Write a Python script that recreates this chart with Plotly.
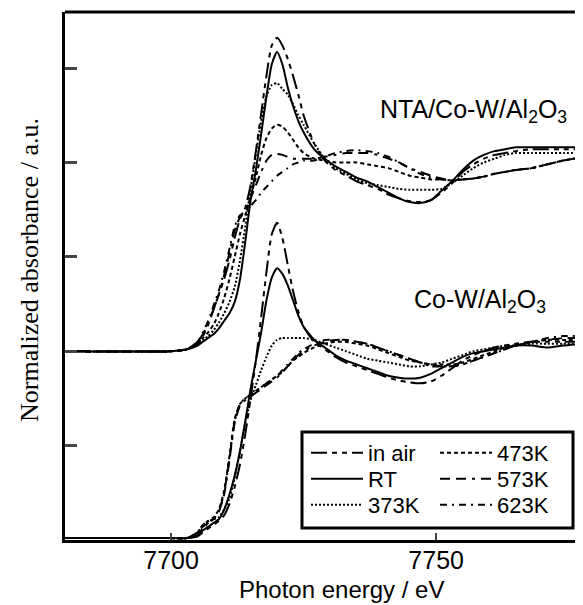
import plotly.graph_objects as go

# Photon energy grid (eV)
energy = [7680, 7700, 7703, 7705, 7706, 7707, 7708, 7709, 7710, 7711, 7712, 7713, 7714, 7715,
          7716, 7717, 7718, 7719, 7720, 7721, 7722, 7723, 7724, 7725, 7727, 7729, 7731, 7733,
          7735, 7737, 7739, 7741, 7743, 7745, 7747, 7749, 7751, 7753, 7755, 7757, 7759, 7761,
          7763, 7765, 7768, 7771, 7774, 7778]

# Co-W/Al2O3 (normalized absorbance)
cow_air = [0.01, 0.01, 0.01, 0.02, 0.04, 0.06, 0.08, 0.10, 0.13, 0.19, 0.28, 0.40, 0.56, 0.75,
           0.95, 1.18, 1.42, 1.62, 1.68, 1.60, 1.46, 1.32, 1.21, 1.13, 1.05, 1.01, 0.97, 0.94,
           0.92, 0.90, 0.88, 0.86, 0.845, 0.835, 0.83, 0.84, 0.87, 0.91, 0.95, 0.98, 1.00, 1.02,
           1.03, 1.04, 1.05, 1.05, 1.05, 1.05]
cow_rt = [0.01, 0.01, 0.01, 0.03, 0.05, 0.07, 0.09, 0.11, 0.16, 0.24, 0.34, 0.47, 0.63, 0.80,
          0.95, 1.10, 1.27, 1.39, 1.44, 1.41, 1.35, 1.27, 1.19, 1.13, 1.06, 1.02, 0.98, 0.95,
          0.93, 0.91, 0.89, 0.87, 0.86, 0.855, 0.86, 0.88, 0.91, 0.94, 0.97, 0.99, 1.00, 1.01,
          1.02, 1.03, 1.03, 1.02, 1.03, 1.04]
cow_373 = [0.01, 0.01, 0.01, 0.04, 0.08, 0.10, 0.11, 0.12, 0.16, 0.22, 0.33, 0.47, 0.62, 0.74,
           0.82, 0.90, 0.97, 1.03, 1.06, 1.07, 1.07, 1.07, 1.07, 1.07, 1.06, 1.04, 1.02, 1.00,
           0.98, 0.96, 0.95, 0.94, 0.93, 0.92, 0.92, 0.93, 0.94, 0.96, 0.98, 1.00, 1.01, 1.02,
           1.03, 1.03, 1.04, 1.04, 1.04, 1.04]
cow_473 = [0.01, 0.01, 0.01, 0.04, 0.08, 0.10, 0.12, 0.16, 0.26, 0.44, 0.64, 0.72, 0.75, 0.77,
           0.79, 0.81, 0.83, 0.85, 0.87, 0.89, 0.92, 0.95, 0.97, 0.99, 1.02, 1.04, 1.05, 1.05,
           1.04, 1.03, 1.01, 0.99, 0.97, 0.95, 0.94, 0.93, 0.93, 0.93, 0.94, 0.96, 0.98, 1.00,
           1.02, 1.03, 1.05, 1.06, 1.06, 1.06]
cow_573 = [0.01, 0.01, 0.01, 0.04, 0.07, 0.09, 0.11, 0.15, 0.24, 0.42, 0.62, 0.71, 0.74, 0.76,
           0.78, 0.80, 0.82, 0.84, 0.86, 0.89, 0.92, 0.95, 0.98, 1.00, 1.03, 1.05, 1.06, 1.06,
           1.05, 1.04, 1.02, 1.00, 0.98, 0.96, 0.94, 0.93, 0.92, 0.92, 0.93, 0.95, 0.97, 0.99,
           1.01, 1.03, 1.05, 1.06, 1.07, 1.07]
cow_623 = [0.01, 0.01, 0.01, 0.03, 0.06, 0.09, 0.11, 0.15, 0.25, 0.43, 0.63, 0.72, 0.75, 0.77,
           0.79, 0.81, 0.83, 0.85, 0.87, 0.90, 0.93, 0.96, 0.99, 1.01, 1.04, 1.06, 1.06, 1.06,
           1.05, 1.04, 1.02, 1.00, 0.98, 0.96, 0.94, 0.92, 0.92, 0.92, 0.93, 0.95, 0.97, 0.99,
           1.01, 1.03, 1.05, 1.07, 1.08, 1.08]

# NTA/Co-W/Al2O3 (normalized absorbance, before vertical offset)
nta_offset = 1.0
nta_air = [0.0, 0.0, 0.01, 0.04, 0.08, 0.14, 0.22, 0.30, 0.38, 0.48, 0.60, 0.70, 0.76, 0.88,
           1.06, 1.26, 1.46, 1.62, 1.66, 1.62, 1.55, 1.46, 1.36, 1.25, 1.10, 1.01, 0.96, 0.93,
           0.90, 0.88, 0.86, 0.83, 0.81, 0.795, 0.79, 0.80, 0.84, 0.89, 0.95, 0.99, 1.02, 1.04,
           1.05, 1.06, 1.07, 1.07, 1.07, 1.07]
nta_rt = [0.0, 0.0, 0.01, 0.03, 0.05, 0.07, 0.09, 0.12, 0.16, 0.20, 0.26, 0.38, 0.58, 0.80,
          0.96, 1.15, 1.35, 1.52, 1.585, 1.52, 1.40, 1.30, 1.22, 1.16, 1.07, 1.02, 0.98, 0.95,
          0.92, 0.90, 0.87, 0.84, 0.81, 0.79, 0.785, 0.80, 0.85, 0.90, 0.96, 1.01, 1.04, 1.06,
          1.07, 1.08, 1.08, 1.08, 1.08, 1.08]
nta_373 = [0.0, 0.0, 0.01, 0.04, 0.06, 0.08, 0.11, 0.15, 0.20, 0.26, 0.34, 0.48, 0.66, 0.86,
           1.04, 1.22, 1.35, 1.41, 1.42, 1.39, 1.36, 1.31, 1.25, 1.20, 1.10, 1.02, 0.97, 0.94,
           0.91, 0.89, 0.88, 0.87, 0.86, 0.855, 0.855, 0.855, 0.86, 0.89, 0.93, 0.97, 1.00, 1.02,
           1.04, 1.05, 1.05, 1.05, 1.05, 1.05]
nta_473 = [0.0, 0.0, 0.01, 0.04, 0.07, 0.10, 0.14, 0.20, 0.28, 0.38, 0.50, 0.62, 0.72, 0.82,
           0.92, 1.04, 1.13, 1.18, 1.20, 1.19, 1.16, 1.12, 1.08, 1.05, 1.02, 1.01, 1.00, 1.00,
           1.00, 0.99, 0.98, 0.97, 0.95, 0.93, 0.92, 0.91, 0.91, 0.905, 0.91, 0.915, 0.925, 0.94,
           0.95, 0.96, 0.97, 0.99, 1.01, 1.03]
nta_573 = [0.0, 0.0, 0.01, 0.05, 0.09, 0.15, 0.22, 0.30, 0.40, 0.52, 0.64, 0.71, 0.75, 0.81,
           0.88, 0.95, 1.01, 1.04, 1.045, 1.04, 1.03, 1.02, 1.02, 1.02, 1.02, 1.03, 1.04, 1.05,
           1.05, 1.05, 1.04, 1.02, 1.00, 0.97, 0.95, 0.93, 0.915, 0.905, 0.91, 0.915, 0.925, 0.94,
           0.95, 0.96, 0.97, 0.99, 1.01, 1.03]
nta_623 = [0.0, 0.0, 0.01, 0.05, 0.10, 0.16, 0.24, 0.32, 0.42, 0.54, 0.66, 0.72, 0.74, 0.77,
           0.80, 0.84, 0.87, 0.90, 0.93, 0.95, 0.97, 0.99, 1.00, 1.01, 1.01, 1.03, 1.05, 1.06,
           1.065, 1.06, 1.05, 1.03, 1.00, 0.97, 0.94, 0.92, 0.91, 0.905, 0.91, 0.915, 0.925, 0.94,
           0.95, 0.96, 0.97, 0.99, 1.01, 1.03]

labels = ["in air", "RT", "373K", "473K", "573K", "623K"]
dashes = ["16px,5px,5px,5px,5px,5px", "solid", "2px,2px", "4px,3px",
          "10px,6px,10px,6px,3px,6px", "7px,5px,2px,5px"]
cow_series = [cow_air, cow_rt, cow_373, cow_473, cow_573, cow_623]
nta_series = [nta_air, nta_rt, nta_373, nta_473, nta_573, nta_623]

# page geometry (the page body adds an 8 px offset to the figure)
PAGE_W, PAGE_H, BODY = 583, 605, 8
W, H = PAGE_W - BODY, PAGE_H - BODY
plot_left, plot_top, plot_bottom, plot_right = 65, 12, 540, 583   # page pixels
def px(xp):
    return (xp - plot_left) / (plot_right - plot_left)
def py(yp):
    return (plot_bottom - yp) / (plot_bottom - plot_top)

legend_names = ["legend", "legend2", "legend3", "legend4", "legend5", "legend6"]
legend_x = [306, 306, 306, 435, 435, 435]
legend_y = [453, 479, 505, 453, 479, 505]

fig = go.Figure()
for i, (lab, d) in enumerate(zip(labels, dashes)):
    fig.add_trace(go.Scatter(x=energy, y=[v + nta_offset for v in nta_series[i]], mode="lines",
                             line=dict(color="black", width=2, dash=d, shape="spline", smoothing=0.6),
                             name=lab, showlegend=False))
    fig.add_trace(go.Scatter(x=energy, y=cow_series[i], mode="lines",
                             line=dict(color="black", width=2, dash=d, shape="spline", smoothing=0.6),
                             name=lab, showlegend=True, legend=legend_names[i]))

legfont = dict(family="Liberation Sans, Arial", size=22, color="black")
legends = {}
for name, lx, ly in zip(legend_names, legend_x, legend_y):
    legends[name] = dict(x=px(lx), y=py(ly), xanchor="left", yanchor="middle",
                         bgcolor="rgba(0,0,0,0)", font=legfont, itemwidth=52, borderwidth=0)

fig.update_layout(
    width=W, height=H,
    margin=dict(l=plot_left - BODY, r=PAGE_W - plot_right, t=plot_top - BODY, b=PAGE_H - plot_bottom, pad=0),
    plot_bgcolor="white", paper_bgcolor="white",
    font=dict(family="Liberation Sans, Arial", size=24, color="black"),
    xaxis=dict(range=[7680, 7777.7], tickvals=[7700, 7750], ticks="inside", ticklen=7, tickwidth=2,
               showline=True, linewidth=3, linecolor="black", mirror=False, showgrid=False, zeroline=False,
               tickfont=dict(size=25), ticklabelstandoff=-4),
    yaxis=dict(range=[0, 2.797], tickvals=[0, 0.5, 1.0, 1.5, 2.0, 2.5], ticks="inside", ticklen=12,
               tickwidth=3, showticklabels=False, showline=True, linewidth=3, linecolor="black",
               mirror=False, showgrid=False, zeroline=False),
    shapes=[
        dict(type="line", xref="paper", yref="paper", x0=0, x1=1, y0=1, y1=1,
             line=dict(color="black", width=3)),
        dict(type="rect", xref="paper", yref="paper", x0=px(302), x1=px(573), y0=py(528), y1=py(432),
             line=dict(color="black", width=3)),
    ],
    annotations=[
        dict(text="NTA/Co-W/Al<sub>2</sub>O<sub>3</sub>", xref="paper", yref="paper", x=px(378), y=py(111),
             xanchor="left", yanchor="middle", showarrow=False, font=dict(size=25)),
        dict(text="Co-W/Al<sub>2</sub>O<sub>3</sub>", xref="paper", yref="paper", x=px(412), y=py(301),
             xanchor="left", yanchor="middle", showarrow=False, font=dict(size=25)),
        dict(text="Photon energy / eV", xref="paper", yref="paper", x=px(341), y=py(589),
             xanchor="center", yanchor="middle", showarrow=False, font=dict(size=24)),
        dict(text="Normalized absorbance / a.u.", xref="paper", yref="paper", x=px(29), y=py(270),
             xanchor="center", yanchor="middle", textangle=-90, showarrow=False,
             font=dict(family="Liberation Serif, Times New Roman", size=26)),
    ],
    **legends,
)
fig.write_html("out.html")
